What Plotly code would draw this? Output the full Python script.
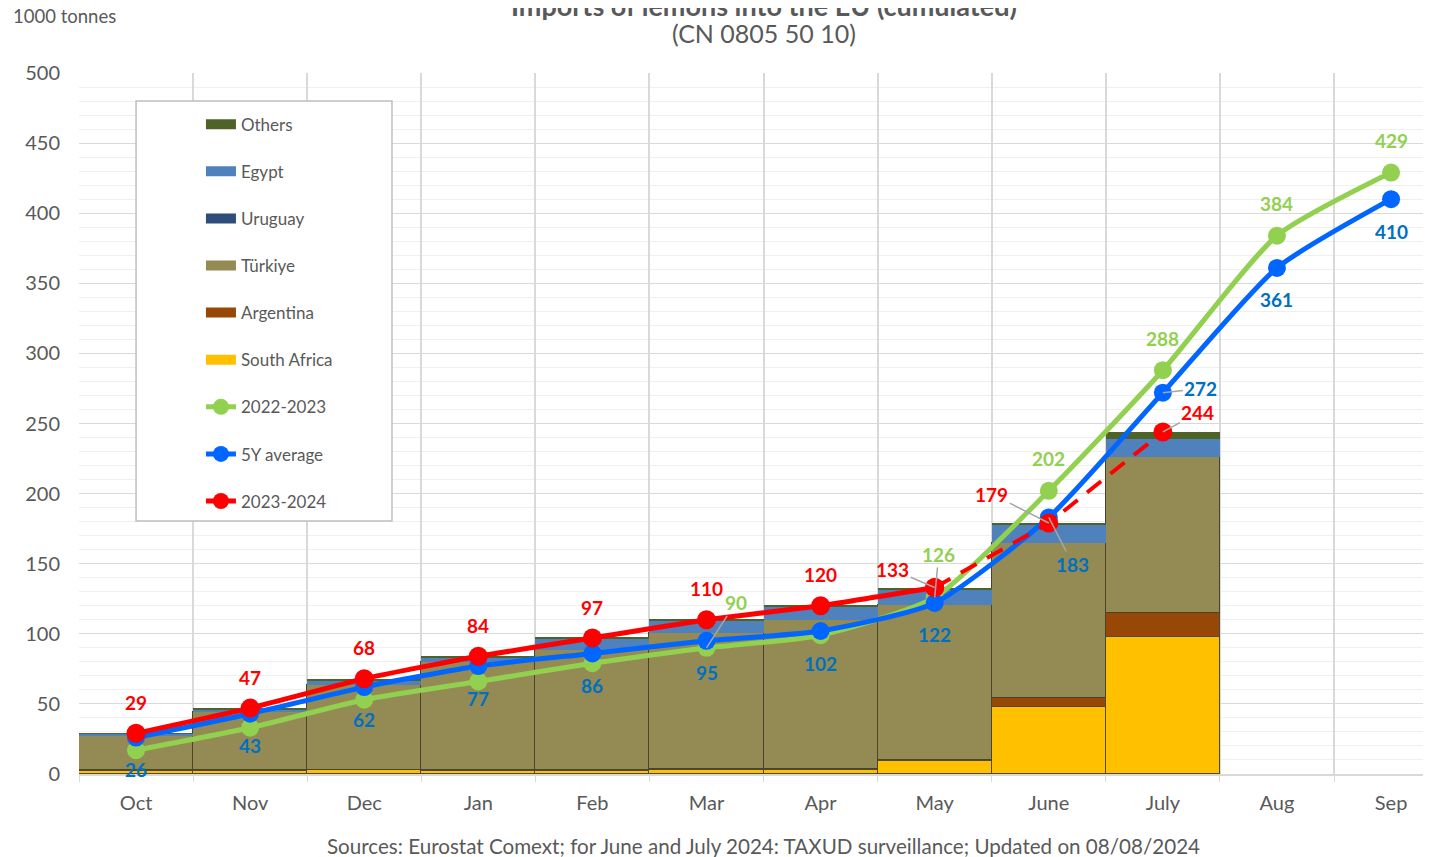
import plotly.graph_objects as go

months = ["Oct", "Nov", "Dec", "Jan", "Feb", "Mar", "Apr", "May", "June", "July", "Aug", "Sep"]
bar_months = months[:10]

south_africa = [2.5, 2.5, 2.8, 2.5, 2.5, 3.0, 3.0, 9.0, 48.0, 98.0]
argentina    = [0.3, 0.3, 0.3, 0.3, 0.3, 0.3, 0.3, 1.2, 6.0, 17.0]
turkiye      = [25.0, 41.7, 60.4, 77.0, 86.0, 97.0, 106.7, 110.4, 111.0, 111.0]
uruguay      = [0, 0, 0, 0, 0, 0, 0, 0, 0, 0]
egypt        = [1.0, 1.5, 3.5, 3.5, 8.0, 9.5, 9.4, 10.7, 12.5, 13.0]
others       = [0.2, 0.5, 0.5, 0.5, 0.5, 0.2, 0.6, 1.5, 1.5, 5.0]

y2022_2023 = [17, 33, 53, 66, 79, 90, 99, 126, 202, 288, 384, 429]
avg_5y     = [26, 43, 62, 77, 86, 95, 102, 122, 183, 272, 361, 410]
y2023_2024 = [29, 47, 68, 84, 97, 110, 120, 133, 179, 244]

FONT = "Lato"
GRAY = "#595959"
C_GREEN, C_BLUE, C_RED = "#92D050", "#0066FF", "#FF0000"
C_BLUE_TXT = "#0070C0"

fig = go.Figure()

bar_specs = [
    ("South Africa", south_africa, "#FFC000", "#4D4A3A", 1.5),
    ("Argentina", argentina, "#974706", "#4D4A3A", 1.5),
    ("Türkiye", turkiye, "#948A54", "#4A452A", 1.5),
    ("Uruguay", uruguay, "#2E4D7A", "#2E4D7A", 0),
    ("Egypt", egypt, "#4F81BD", "#4F81BD", 0),
    ("Others", others, "#4F6228", "#4F6228", 0),
]
for name, vals, col, lc, lw in bar_specs:
    fig.add_trace(go.Bar(x=bar_months, y=vals, name=name, marker=dict(color=col, line=dict(color=lc, width=lw)),
                         showlegend=False, hoverinfo="skip"))

legend_rank = {"Others": 1, "Egypt": 2, "Uruguay": 3, "Türkiye": 4, "Argentina": 5, "South Africa": 6,
               "2022-2023": 7, "5Y average": 8, "2023-2024": 9}
for name, vals, col, lc, lw in bar_specs:
    fig.add_trace(go.Scatter(x=[None], y=[None], mode="lines", name=name, line=dict(color=col, width=10),
                             legendrank=legend_rank[name], legendgroup=name, showlegend=True))

fig.add_trace(go.Scatter(x=months, y=y2022_2023, mode="lines+markers", name="2022-2023",
                         line=dict(color=C_GREEN, width=5, shape="spline", smoothing=0.6),
                         marker=dict(size=18, color=C_GREEN), legendrank=legend_rank["2022-2023"],
                         legendgroup="2022-2023"))
fig.add_trace(go.Scatter(x=months, y=avg_5y, mode="lines+markers", name="5Y average",
                         line=dict(color=C_BLUE, width=5, shape="spline", smoothing=0.6),
                         marker=dict(size=18, color=C_BLUE), legendrank=legend_rank["5Y average"],
                         legendgroup="5Y average"))
fig.add_trace(go.Scatter(x=months[7:10], y=y2023_2024[7:10], mode="lines+markers", name="2023-2024",
                         line=dict(color=C_RED, width=4, dash="18px,12px"),
                         marker=dict(size=19, color=C_RED), showlegend=False))
fig.add_trace(go.Scatter(x=months[:8], y=y2023_2024[:8], mode="lines+markers", name="2023-2024",
                         line=dict(color=C_RED, width=5, shape="spline", smoothing=0.4),
                         marker=dict(size=19, color=C_RED), legendrank=legend_rank["2023-2024"],
                         legendgroup="2023-2024"))

ann = []
lab_font = lambda c: dict(family=FONT, size=19, color=c)


def leader(m, v, c, ax, ay):
    return dict(x=m, y=v, text=f"<b>{v}</b>", showarrow=True, arrowhead=0, arrowcolor="#A6A6A6",
                arrowwidth=1.5, ax=ax, ay=ay, font=lab_font(c), standoff=0)


def plain(m, v, c, ys):
    return dict(x=m, y=v, text=f"<b>{v}</b>", showarrow=False, yshift=ys, font=lab_font(c),
                xanchor="center", yanchor="middle")


red_leaders = {"May": (-42, -18), "June": (-57, -29), "July": (35, -19)}
for i, v in enumerate(y2023_2024):
    m = months[i]
    ann.append(leader(m, v, C_RED, *red_leaders[m]) if m in red_leaders else plain(m, v, C_RED, 31))

blue_leaders = {"June": (24, 47), "July": (38, -4)}
for i, v in enumerate(avg_5y):
    m = months[i]
    ann.append(leader(m, v, C_BLUE_TXT, *blue_leaders[m]) if m in blue_leaders else plain(m, v, C_BLUE_TXT, -32))

green_shown = {"Mar", "May", "June", "July", "Aug", "Sep"}
green_leaders = {"Mar": (29, -45), "May": (4, -43)}
for i, v in enumerate(y2022_2023):
    m = months[i]
    if m not in green_shown:
        continue
    ann.append(leader(m, v, C_GREEN, *green_leaders[m]) if m in green_leaders else plain(m, v, C_GREEN, 32))

ann += [
    dict(xref="paper", yref="paper", x=0.507, y=1.097, xanchor="center", yanchor="middle",
         text="<b>Imports of lemons into the EU (cumulated)</b>",
         showarrow=False, font=dict(family=FONT, size=27, color=GRAY)),
    dict(xref="paper", yref="paper", x=0.507, y=1.057, xanchor="center", yanchor="middle",
         text="(CN 0805 50 10)", showarrow=False, font=dict(family=FONT, size=25, color=GRAY)),
    dict(xref="paper", yref="paper", x=-0.050, y=1.081, xanchor="left", yanchor="middle", text="1000 tonnes",
         showarrow=False, font=dict(family=FONT, size=18.5, color=GRAY)),
    dict(xref="paper", yref="paper", x=0.506, y=-0.1027, xanchor="center", yanchor="middle",
         text="Sources: Eurostat Comext; for June and July 2024: TAXUD surveillance; Updated on 08/08/2024",
         showarrow=False, font=dict(family=FONT, size=20.6, color=GRAY)),
]

fig.update_layout(
    width=1431, height=857,
    margin=dict(l=71, r=8, t=65, b=91),
    paper_bgcolor="white", plot_bgcolor="white",
    barmode="stack", bargap=0,
    font=dict(family=FONT, color=GRAY),
    annotations=ann,
    shapes=[dict(type="rect", xref="paper", yref="paper", x0=0.0422, x1=0.2315, y0=0.3609, y1=0.9601,
                 fillcolor="white", line=dict(color="#BFBFBF", width=1.5), layer="above")],
    legend=dict(x=0.0902, y=0.952, xanchor="left", yanchor="top", bgcolor="rgba(0,0,0,0)", borderwidth=0,
                font=dict(family=FONT, size=17, color=GRAY), traceorder="grouped", tracegroupgap=22),
    xaxis=dict(type="category", range=[-0.5, 11.35], tickson="boundaries", showgrid=True,
               gridcolor="#D9D9D9", gridwidth=1.5, ticks="outside", ticklen=6, tickcolor="#D9D9D9",
               showline=True, linecolor="#D9D9D9", linewidth=1.5, ticklabelstandoff=10,
               tickfont=dict(family=FONT, size=20, color=GRAY), zeroline=False),
    yaxis=dict(range=[0, 500], dtick=50, showgrid=True, gridcolor="#D9D9D9", gridwidth=1.2,
               minor=dict(dtick=10, showgrid=True, gridcolor="#EFEFEF", gridwidth=1),
               tickfont=dict(family=FONT, size=20, color=GRAY), zeroline=False, ticklen=14, ticks="outside",
               tickcolor="rgba(0,0,0,0)"),
)

fig.write_html("out.html")
